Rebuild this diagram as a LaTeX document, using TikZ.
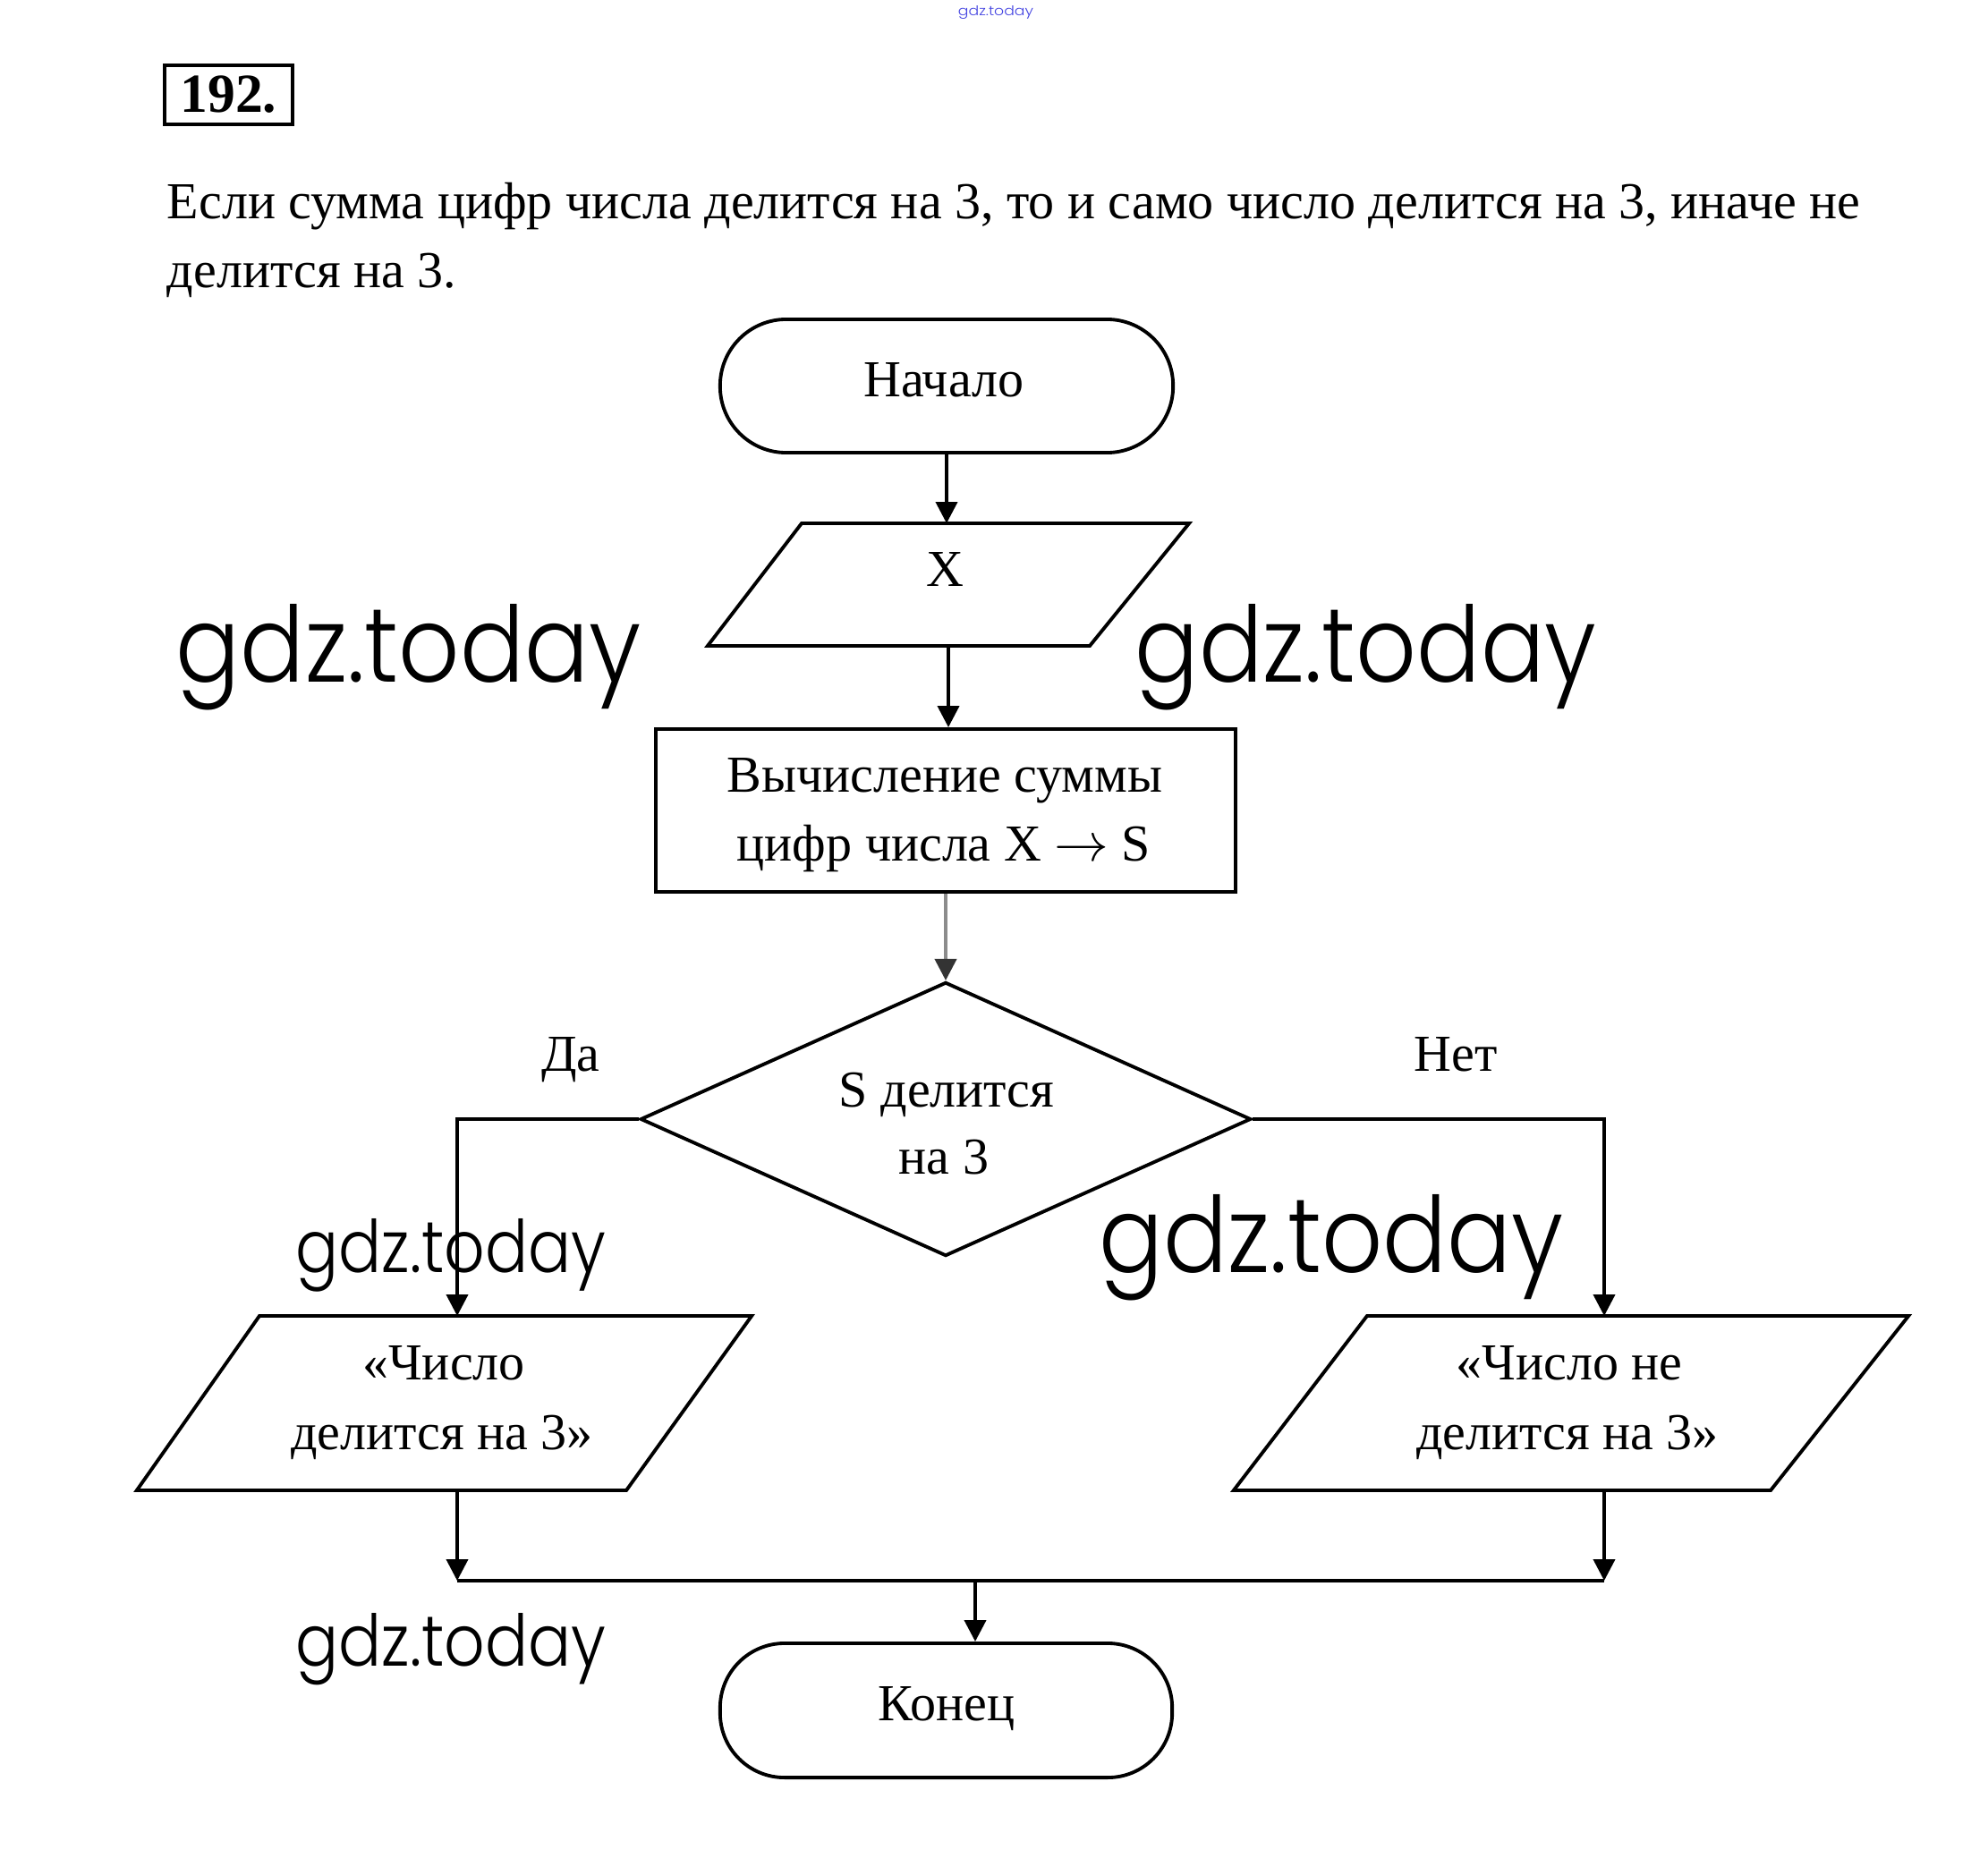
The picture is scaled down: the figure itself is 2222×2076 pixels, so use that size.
\documentclass[tikz,border=0pt]{standalone}
\usepackage{fontspec}
\usepackage{graphicx}
\setmainfont{Liberation Serif}
\newfontfamily\wmfont{Poppins Light}
\usetikzlibrary{shapes.geometric,arrows.meta}
\definecolor{wmblue}{RGB}{70,70,225}
\begin{document}
\begin{tikzpicture}[x=0.01cm,y=-0.01cm,
  line width=1.1pt,
  arr/.style={-{Triangle[length=2.4mm,width=2.4mm]}},
  term/.style={draw,rectangle,rounded corners=0.74cm,minimum width=5.06cm,minimum height=1.49cm,inner sep=0pt},
  pframe/.style={rectangle,inner sep=0pt},
  procbox/.style={draw,rectangle,minimum width=6.48cm,minimum height=1.82cm,inner sep=0pt},
  dec/.style={draw,diamond,minimum width=6.82cm,minimum height=3.06cm,inner sep=0pt},
  txt/.style={anchor=base,inner sep=0pt,font=\fontsize{16.5}{19}\selectfont},
  wm/.style={anchor=base west,inner sep=0pt},
]
\useasboundingbox (0,0) rectangle (2222,2076);

% header
\node[draw,line width=1.0pt,minimum width=1.43cm,minimum height=0.66cm,inner sep=0pt,
      font=\bfseries\fontsize{17.5}{20}\selectfont] (num) at (255.5,106) {192.};
\node[txt,anchor=base west] (p1) at (185,245) {Если сумма цифр числа делится на 3, то и само число делится на 3, иначе не};
\node[txt,anchor=base west] (p2) at (185,322) {делится на 3.};

% shapes
\node[term] (start) at (1058,431.5) {};
\node[pframe,minimum width=5.34cm,minimum height=1.33cm] (inp) at (1060,653.5) {};
\draw ([xshift=1.05cm]inp.north west) -- (inp.north east) -- ([xshift=-1.11cm]inp.south east) -- (inp.south west) -- cycle;
\node[procbox] (calc) at (1057,906) {};
\node[dec] (cond) at (1057,1251) {};
\node[pframe,minimum width=6.83cm,minimum height=1.91cm] (outY) at (496.5,1568.5) {};
\draw ([xshift=1.37cm]outY.north west) -- (outY.north east) -- ([xshift=-1.40cm]outY.south east) -- (outY.south west) -- cycle;
\node[pframe,minimum width=7.5cm,minimum height=1.91cm] (outN) at (1756,1568.5) {};
\draw ([xshift=1.49cm]outN.north west) -- (outN.north east) -- ([xshift=-1.54cm]outN.south east) -- (outN.south west) -- cycle;
\node[term,minimum width=5.05cm,minimum height=1.5cm,rounded corners=0.72cm] (fin) at (1057.5,1912) {};

% texts
\node[txt] (tStart) at (1055,443) {Начало};
\node[txt] (tX) at (1056,655) {X};
\node[txt] (tC1) at (1056,885) {Вычисление суммы};
\node[txt] (tC2) at (1055,962) {цифр числа X $\rightarrow$ S};
\node[txt] (tD1) at (1058,1237) {S делится};
\node[txt] (tD2) at (1055,1312) {на 3};
\node[txt] (tYes) at (638,1197) {Да};
\node[txt] (tNo) at (1627,1197) {Нет};
\node[txt] (tY1) at (496,1542) {«Число};
\node[txt] (tY2) at (494,1620) {делится на 3»};
\node[txt] (tN1) at (1754,1542) {«Число не};
\node[txt] (tN2) at (1752,1620) {делится на 3»};
\node[txt] (tEnd) at (1058,1923) {Конец};

% junctions
\coordinate (jY) at (511,1767);
\coordinate (jN) at (1793,1767);
\coordinate (jE) at (1090,1767);

% connectors
\draw[arr] (start.south) -- (start.south |- inp.north);
\draw[arr] (inp.south) -- (inp.south |- calc.north);
\draw[draw=black!45,-{Triangle[length=2.4mm,width=2.4mm,color=black!80]}] (calc.south) -- (cond.north);
\draw[arr] (cond.west) -| (jY |- outY.north);
\draw[arr] (cond.east) -| (jN |- outN.north);
\draw[arr] (jY |- outY.south) -- (jY);
\draw[arr] (jN |- outN.south) -- (jN);
\draw (jY) -- (jN);
\draw[arr] (jE) -- (jE |- fin.north);

% watermarks
\node[wm] (w0) at (1069,18) {\resizebox{0.84cm}{0.11cm}{\color{wmblue}\wmfont gdz.today}};
\node[wm] (w1) at (195,762) {\resizebox{5.19cm}{0.87cm}{\wmfont gdz.today}};
\node[wm] (w2) at (1267,762) {\resizebox{5.15cm}{0.87cm}{\wmfont gdz.today}};
\node[wm] (w3) at (1227,1422) {\resizebox{5.18cm}{0.87cm}{\wmfont gdz.today}};
\node[wm] (w4) at (329,1422) {\resizebox{3.46cm}{0.60cm}{\wmfont gdz.today}};
\node[wm] (w5) at (329,1862) {\resizebox{3.46cm}{0.59cm}{\wmfont gdz.today}};
\end{tikzpicture}
\end{document}
